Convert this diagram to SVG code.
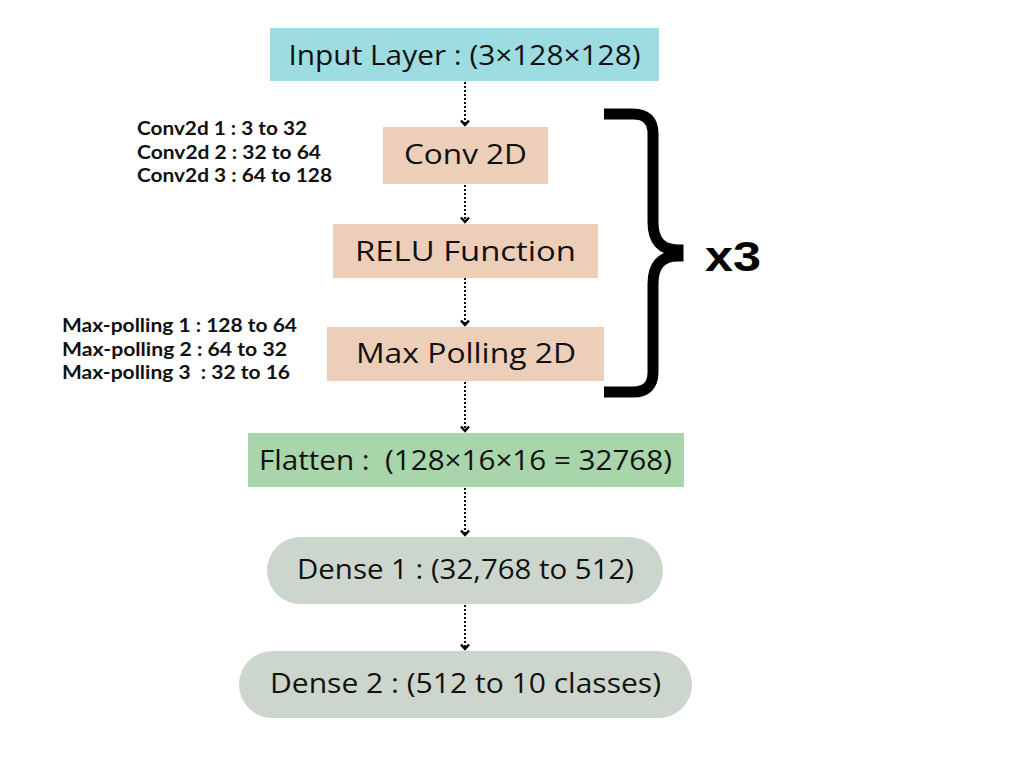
<svg xmlns="http://www.w3.org/2000/svg" width="1024" height="768" viewBox="0 0 1024 768">
  <defs>
    <style>
      .main { font-family: "Open Sans", "Noto Sans", "Liberation Sans", sans-serif; font-size: 27px; fill: #111111; text-anchor: middle; white-space: pre; }
      .note { font-family: Lato, "Liberation Sans", sans-serif; font-weight: bold; font-size: 18px; fill: #111111; white-space: pre; }
      .conn { stroke: #111111; stroke-width: 2; stroke-dasharray: 2 2; fill: none; }
      .cyan { fill: #9DDCE0; }
      .peach { fill: #EDCFB9; }
      .green { fill: #A8D5AA; }
      .gray { fill: #CDD6CD; }
    </style>
    <marker id="arr" viewBox="0 0 9 12" refX="7" refY="6" markerWidth="9" markerHeight="12" markerUnits="userSpaceOnUse" orient="auto">
      <path d="M2.5,2 L7,6 L2.5,10" fill="none" stroke="#000000" stroke-width="2.4" stroke-dasharray="none" stroke-linejoin="miter"/>
    </marker>
  </defs>
  <rect width="1024" height="768" fill="#ffffff"/>

  <g id="connectors">
    <line class="conn" x1="465" y1="82" x2="465" y2="125" marker-end="url(#arr)"/>
    <line class="conn" x1="465" y1="185" x2="465" y2="222" marker-end="url(#arr)"/>
    <line class="conn" x1="465" y1="278" x2="465" y2="325" marker-end="url(#arr)"/>
    <line class="conn" x1="465" y1="382" x2="465" y2="431" marker-end="url(#arr)"/>
    <line class="conn" x1="465" y1="488" x2="465" y2="535" marker-end="url(#arr)"/>
    <line class="conn" x1="465" y1="605" x2="465" y2="649" marker-end="url(#arr)"/>
  </g>

  <g id="input">
    <rect class="cyan" x="270" y="28" width="389" height="53"/>
    <text class="main" x="464.5" y="65" textLength="352" lengthAdjust="spacingAndGlyphs">Input Layer : (3×128×128)</text>
  </g>

  <g id="conv2d">
    <rect class="peach" x="383" y="127" width="165" height="57"/>
    <text class="main" x="465.5" y="164" textLength="123" lengthAdjust="spacingAndGlyphs">Conv 2D</text>
  </g>

  <g id="relu">
    <rect class="peach" x="333" y="224" width="265" height="54"/>
    <text class="main" x="465.5" y="261" textLength="221" lengthAdjust="spacingAndGlyphs">RELU Function</text>
  </g>

  <g id="maxpool">
    <rect class="peach" x="327" y="327" width="277" height="54"/>
    <text class="main" x="466" y="363" textLength="220" lengthAdjust="spacingAndGlyphs">Max Polling 2D</text>
  </g>

  <g id="flatten">
    <rect class="green" x="248" y="433" width="436" height="54"/>
    <text class="main" x="465.5" y="470" textLength="413" lengthAdjust="spacingAndGlyphs">Flatten :  (128×16×16 = 32768)</text>
  </g>

  <g id="dense1">
    <rect class="gray" x="267" y="537" width="396" height="67" rx="33.5"/>
    <text class="main" x="465.5" y="579" textLength="337" lengthAdjust="spacingAndGlyphs">Dense 1 : (32,768 to 512)</text>
  </g>

  <g id="dense2">
    <rect class="gray" x="239" y="651" width="453" height="67" rx="33.5"/>
    <text class="main" x="465.5" y="693" textLength="391" lengthAdjust="spacingAndGlyphs">Dense 2 : (512 to 10 classes)</text>
  </g>

  <g id="conv-notes">
    <text class="note" x="137" y="135" textLength="170" lengthAdjust="spacingAndGlyphs">Conv2d 1 : 3 to 32</text>
    <text class="note" x="137" y="159" textLength="184" lengthAdjust="spacingAndGlyphs">Conv2d 2 : 32 to 64</text>
    <text class="note" x="137" y="182" textLength="195" lengthAdjust="spacingAndGlyphs">Conv2d 3 : 64 to 128</text>
  </g>

  <g id="pool-notes">
    <text class="note" x="62" y="332" textLength="235" lengthAdjust="spacingAndGlyphs">Max-polling 1 : 128 to 64</text>
    <text class="note" x="62" y="356" textLength="225" lengthAdjust="spacingAndGlyphs">Max-polling 2 : 64 to 32</text>
    <text class="note" x="62" y="379" textLength="228" lengthAdjust="spacingAndGlyphs">Max-polling 3  : 32 to 16</text>
  </g>

  <g id="repeat-brace">
    <path d="M604,114 H633 Q653,114 653,134 V222 Q653,250 678,250 L678,256 Q653,256 653,284 V372 Q653,392 633,392 H604" fill="none" stroke="#000000" stroke-width="11" stroke-linejoin="miter"/>
    <text x="705" y="271" font-family="'Liberation Sans', Arial, sans-serif" font-weight="bold" font-size="42" fill="#000000" textLength="56" lengthAdjust="spacingAndGlyphs">x3</text>
  </g>
</svg>
